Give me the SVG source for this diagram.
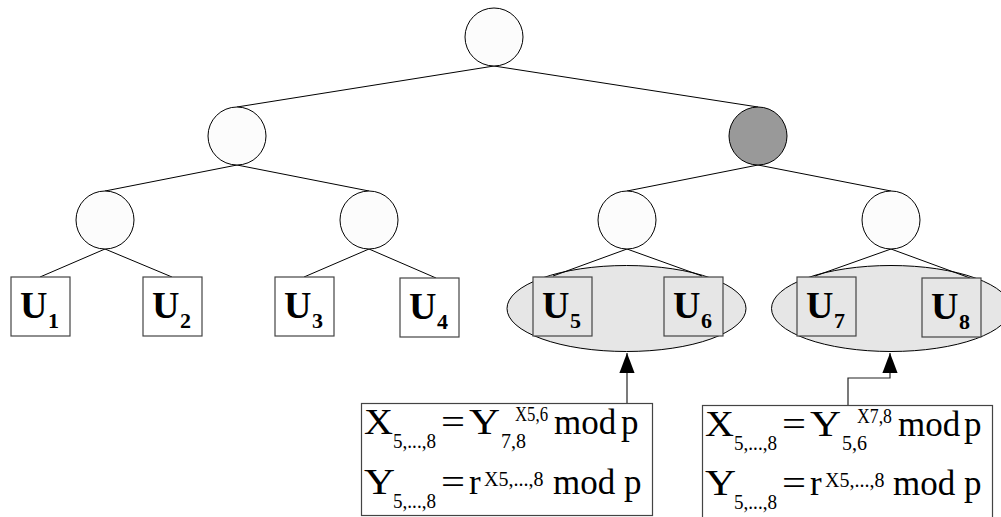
<svg xmlns="http://www.w3.org/2000/svg" width="1001" height="517" viewBox="0 0 1001 517">
  <defs>
    <style>
      .node { fill: #fcfcfc; stroke: #000; stroke-width: 1; }
      .hot { fill: #999999; stroke: #000; stroke-width: 1; }
      .group { fill: #e6e6e6; stroke: #000; stroke-width: 1; }
      .leaf { fill: #fff; stroke: #444; stroke-width: 1.2; }
      .leafg { fill: #e6e6e6; stroke: #444; stroke-width: 1.2; }
      .edge { stroke: #000; stroke-width: 1; fill: none; }
      .arrow { stroke: #222; stroke-width: 1.2; fill: none; }
      .eq { fill: #fff; stroke: #444; stroke-width: 1.2; }
      text { font-family: 'Liberation Serif', 'Times New Roman', serif; fill: #000; }
      .u { font-weight: bold; font-size: 38px; }
      .us { font-weight: bold; font-size: 22px; }
      .m { font-size: 35px; }
      .s { font-size: 20px; }
    </style>
    <marker id="head" markerUnits="userSpaceOnUse" markerWidth="20" markerHeight="26" refX="25" refY="9.5" orient="auto" viewBox="0 0 25 19">
      <path d="M0,0 L25,9.5 L0,19 Z" fill="#000"/>
    </marker>
  </defs>

  <!-- shaded groupings under the right-hand leaves -->
  <g id="group-56"><ellipse class="group" cx="626.5" cy="308.5" rx="119.5" ry="43"/></g>
  <g id="group-78"><ellipse class="group" cx="891" cy="308.5" rx="119.5" ry="43"/></g>

  <!-- tree edges and arrows -->
  <g id="connectors">
    <line class="edge" x1="494" y1="66" x2="237" y2="107"/>
    <line class="edge" x1="494" y1="66" x2="758" y2="107"/>
    <line class="edge" x1="237" y1="165" x2="105" y2="191"/>
    <line class="edge" x1="237" y1="165" x2="369" y2="191"/>
    <line class="edge" x1="758" y1="165" x2="627" y2="191"/>
    <line class="edge" x1="758" y1="165" x2="891" y2="191"/>
    <line class="edge" x1="105" y1="249" x2="40" y2="277"/>
    <line class="edge" x1="105" y1="249" x2="172" y2="277"/>
    <line class="edge" x1="369" y1="249" x2="304" y2="277"/>
    <line class="edge" x1="369" y1="249" x2="436" y2="278"/>
    <line class="edge" x1="627" y1="249" x2="553" y2="276"/>
    <line class="edge" x1="627" y1="249" x2="702" y2="276"/>
    <line class="edge" x1="891" y1="249" x2="815" y2="276"/>
    <line class="edge" x1="891" y1="249" x2="970" y2="278"/>
    <path class="arrow" d="M627,403 V353" marker-end="url(#head)"/>
    <path class="arrow" d="M848,405 V378 H890 V353" marker-end="url(#head)"/>
  </g>

  <!-- internal nodes -->
  <g id="n-root"><circle class="node" cx="494" cy="37" r="29"/></g>
  <g id="n-l"><circle class="node" cx="237" cy="136" r="29"/></g>
  <g id="n-r"><circle class="hot" cx="758" cy="136" r="29"/></g>
  <g id="n-ll"><circle class="node" cx="105" cy="220" r="29"/></g>
  <g id="n-lr"><circle class="node" cx="369" cy="220" r="29"/></g>
  <g id="n-rl"><circle class="node" cx="627" cy="220" r="29"/></g>
  <g id="n-rr"><circle class="node" cx="891" cy="220" r="29"/></g>

  <g font-family="Liberation Serif">
  <!-- leaves -->
  <g id="u1"><rect class="leaf" x="11" y="277" width="59" height="59"/>
    <text class="u" x="20" y="318">U</text><text class="us" x="48" y="328">1</text></g>
  <g id="u2"><rect class="leaf" x="143" y="277" width="59" height="59"/>
    <text class="u" x="152" y="318">U</text><text class="us" x="180" y="328">2</text></g>
  <g id="u3"><rect class="leaf" x="275" y="277" width="59" height="59"/>
    <text class="u" x="284" y="318">U</text><text class="us" x="312" y="328">3</text></g>
  <g id="u4"><rect class="leaf" x="400" y="278" width="59" height="59"/>
    <text class="u" x="409" y="319">U</text><text class="us" x="437" y="329">4</text></g>
  <g id="u5"><rect class="leafg" x="533" y="277" width="59" height="59"/>
    <text class="u" x="542" y="318">U</text><text class="us" x="570" y="328">5</text></g>
  <g id="u6"><rect class="leafg" x="664" y="277" width="59" height="59"/>
    <text class="u" x="673" y="318">U</text><text class="us" x="701" y="328">6</text></g>
  <g id="u7"><rect class="leafg" x="797" y="277" width="59" height="59"/>
    <text class="u" x="806" y="318">U</text><text class="us" x="834" y="328">7</text></g>
  <g id="u8"><rect class="leafg" x="922" y="278" width="59" height="59"/>
    <text class="u" x="931" y="319">U</text><text class="us" x="959" y="329">8</text></g>

  <!-- key computation for U5..U6 side -->
  <g id="eq-left">
    <rect class="eq" x="361.5" y="403.5" width="291" height="112"/>
    <text class="m" x="364" y="434" textLength="29" lengthAdjust="spacingAndGlyphs">X</text>
    <text class="s" x="393" y="448" textLength="43" lengthAdjust="spacingAndGlyphs">5,...,8</text>
    <text class="m" x="441" y="434" textLength="24" lengthAdjust="spacingAndGlyphs">=</text>
    <text class="m" x="469" y="434" textLength="31" lengthAdjust="spacingAndGlyphs">Y</text>
    <text class="s" x="501" y="448">7,8</text>
    <text class="s" x="515" y="421" textLength="33" lengthAdjust="spacingAndGlyphs">X5,6</text>
    <text class="m" x="554" y="434">mod</text>
    <text class="m" x="621" y="434">p</text>

    <text class="m" x="364" y="494" textLength="31" lengthAdjust="spacingAndGlyphs">Y</text>
    <text class="s" x="393" y="508" textLength="43" lengthAdjust="spacingAndGlyphs">5,...,8</text>
    <text class="m" x="441" y="494" textLength="24" lengthAdjust="spacingAndGlyphs">=</text>
    <text class="m" x="469" y="494">r</text>
    <text class="s" x="484" y="486">X5,...,8</text>
    <text class="m" x="553" y="494">mod</text>
    <text class="m" x="624" y="494">p</text>
  </g>

  <!-- key computation for U7..U8 side -->
  <g id="eq-right">
    <rect class="eq" x="702.5" y="405.5" width="290" height="120"/>
    <text class="m" x="705" y="436" textLength="29" lengthAdjust="spacingAndGlyphs">X</text>
    <text class="s" x="734" y="450" textLength="43" lengthAdjust="spacingAndGlyphs">5,...,8</text>
    <text class="m" x="782" y="436" textLength="24" lengthAdjust="spacingAndGlyphs">=</text>
    <text class="m" x="810" y="436" textLength="31" lengthAdjust="spacingAndGlyphs">Y</text>
    <text class="s" x="842" y="450">5,6</text>
    <text class="s" x="857" y="423" textLength="35" lengthAdjust="spacingAndGlyphs">X7,8</text>
    <text class="m" x="898" y="436">mod</text>
    <text class="m" x="964" y="436">p</text>

    <text class="m" x="705" y="495" textLength="31" lengthAdjust="spacingAndGlyphs">Y</text>
    <text class="s" x="734" y="509" textLength="43" lengthAdjust="spacingAndGlyphs">5,...,8</text>
    <text class="m" x="782" y="495" textLength="24" lengthAdjust="spacingAndGlyphs">=</text>
    <text class="m" x="810" y="495">r</text>
    <text class="s" x="825" y="487">X5,...,8</text>
    <text class="m" x="893" y="495">mod</text>
    <text class="m" x="964" y="495">p</text>
  </g>
  </g>
</svg>
